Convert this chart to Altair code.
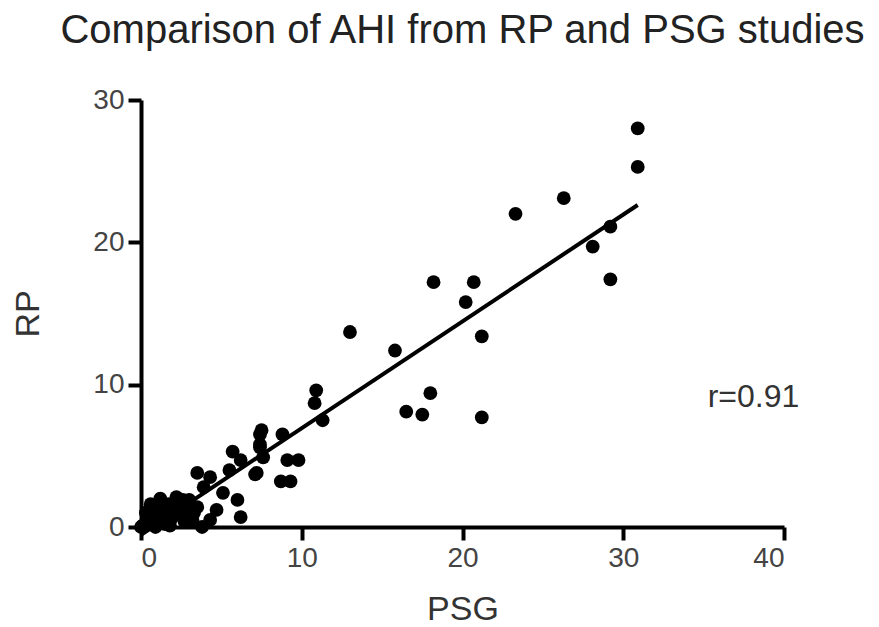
import altair as alt
import pandas as pd

# PSG (x) and RP (y) AHI values
psg = [
    30.9, 30.9, 26.3, 23.3, 29.2, 28.1, 29.2, 20.7, 20.2, 21.2, 21.2,
    18.2, 13.0, 15.8, 18.0, 16.5, 17.5, 10.9, 10.8, 11.3,
    7.4, 8.8, 7.4, 7.6, 9.1, 9.8, 7.1, 8.7, 9.3,
    7.5, 7.4, 5.7, 6.2, 7.2, 5.5, 3.5, 4.3, 3.9, 5.1, 6.0, 6.2, 4.7, 3.5,
    3.2, 4.3, 3.8,
    0.1, 0.4, 0.3, 0.7, 1.1, 1.4, 1.7, 1.9, 2.3, 2.6, 2.9, 2.2, 0.6, 1.2,
    2.7, 0.0, 0.9, 1.8,
    0.5, 1.5, 2.5, 3.0, 1.0, 2.0, 3.3, 2.8,
]
rp = [
    28.0, 25.3, 23.1, 22.0, 21.1, 19.7, 17.4, 17.2, 15.8, 13.4, 7.7,
    17.2, 13.7, 12.4, 9.4, 8.1, 7.9, 9.6, 8.7, 7.5,
    6.5, 6.5, 5.8, 4.9, 4.7, 4.7, 3.7, 3.2, 3.2,
    6.8, 5.6, 5.3, 4.7, 3.8, 4.0, 3.8, 3.5, 2.8, 2.4, 1.9, 0.7, 1.2, 1.4,
    0.5, 0.5, 0.0,
    0.1, 0.5, 1.0, 0.8, 0.4, 1.0, 1.6, 0.6, 1.3, 1.9, 1.0, 2.1, 1.6, 2.0,
    0.4, 0.0, 0.0, 0.1,
    0.3, 0.2, 0.9, 1.9, 1.4, 1.1, 1.0, 1.6,
]

# regression line
fit_slope = 0.75
fit_intercept = -0.55
fit_x = [0.0, 30.9]

r_label = "r=0.91"
r_pos = (38.1, 9.1)

x_ticks = [0, 10, 20, 30, 40]
y_ticks = [0, 10, 20, 30]

pts = pd.DataFrame({"PSG": psg, "RP": rp})
fit = pd.DataFrame({"PSG": fit_x, "RP": [fit_intercept + fit_slope * v for v in fit_x]})
lab = pd.DataFrame({"PSG": [r_pos[0]], "RP": [r_pos[1]], "t": [r_label]})

xs = alt.Scale(domain=[0, 40], nice=False, zero=False)
ys = alt.Scale(domain=[0, 30], nice=False, zero=False)

xenc = alt.X("PSG:Q", scale=xs, axis=alt.Axis(values=x_ticks, title="PSG"))
yenc = alt.Y("RP:Q", scale=ys, axis=alt.Axis(values=y_ticks, title="RP"))

points = alt.Chart(pts).mark_circle(size=190, color="black", opacity=1).encode(x=xenc, y=yenc)
line = alt.Chart(fit).mark_line(color="black", strokeWidth=4, clip=False).encode(x="PSG:Q", y="RP:Q")
text = alt.Chart(lab).mark_text(fontSize=32, font="Liberation Sans", color="#333333",
                                align="center", baseline="middle").encode(x="PSG:Q", y="RP:Q", text="t:N")

chart = alt.layer(points, line, text).properties(
    width=643, height=427,
    title=alt.TitleParams("Comparison of AHI from RP and PSG studies", fontSize=40,
                          font="Liberation Sans", fontWeight="normal", color="#222222",
                          anchor="middle", offset=35),
    autosize=alt.AutoSizeParams(type="none"),
    padding={"left": 141, "top": 100, "right": 95, "bottom": 100},
    background="white",
).configure_view(stroke=None).configure_axis(
    grid=False, domainColor="black", domainWidth=4, tickColor="black", tickWidth=4,
    tickSize=13, labelFont="Liberation Sans", labelFontSize=28, labelColor="#444444",
    labelPadding=4, titleFont="Liberation Sans", titleFontSize=34, titleFontWeight="normal",
    titleColor="#333333",
).configure_axisX(titlePadding=20).configure_axisY(titlePadding=47, labelAlign="right")

chart.save("out.html", embed_options={"renderer": "svg", "actions": False})
